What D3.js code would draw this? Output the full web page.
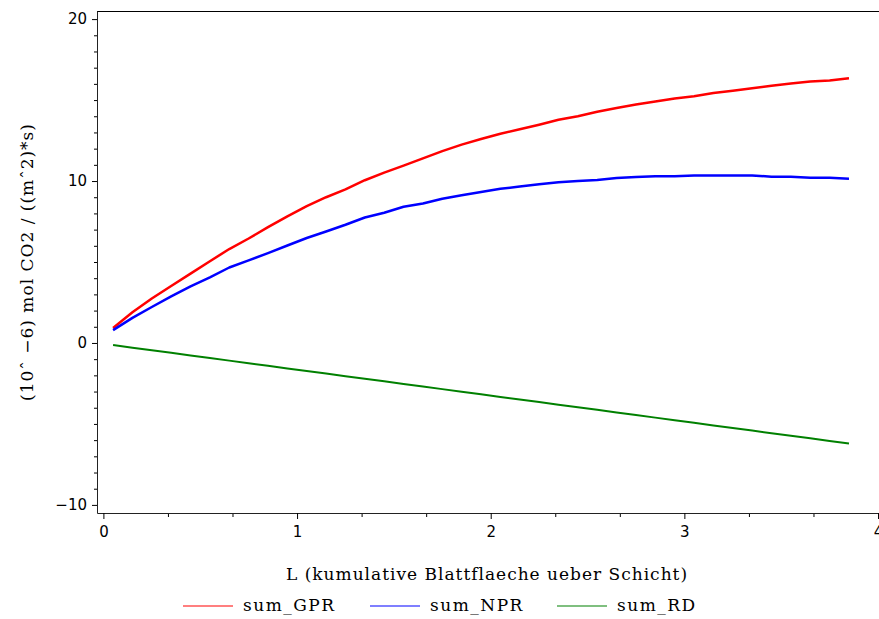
<!DOCTYPE html>
<html>
<head>
<meta charset="utf-8">
<script src="https://cdn.jsdelivr.net/npm/d3@7"></script>
<style>
  body { margin: 0; background: #fff; }
  svg { display: block; }
</style>
</head>
<body>
<svg id="chart" width="879" height="619"></svg>
<script>
// L values (cumulative leaf area above the layer)
const L = [0.05, 0.15, 0.25, 0.35, 0.45, 0.55, 0.65, 0.75, 0.85, 0.95,
  1.05, 1.15, 1.25, 1.35, 1.45, 1.55, 1.65, 1.75, 1.85, 1.95,
  2.05, 2.15, 2.25, 2.35, 2.45, 2.55, 2.65, 2.75, 2.85, 2.95,
  3.05, 3.15, 3.25, 3.35, 3.45, 3.55, 3.65, 3.75, 3.85];

const sumGPR = [0.93, 1.90, 2.75, 3.52, 4.28, 5.05, 5.80, 6.45, 7.15, 7.82,
  8.45, 9.00, 9.48, 10.05, 10.52, 10.95, 11.40, 11.85, 12.25, 12.60,
  12.92, 13.20, 13.48, 13.78, 14.00, 14.28, 14.51, 14.72, 14.91, 15.10,
  15.23, 15.43, 15.58, 15.73, 15.88, 16.02, 16.15, 16.21, 16.35];

const sumNPR = [0.79, 1.55, 2.22, 2.88, 3.50, 4.05, 4.66, 5.10, 5.55, 6.02,
  6.48, 6.88, 7.30, 7.75, 8.04, 8.41, 8.61, 8.91, 9.12, 9.32,
  9.52, 9.66, 9.80, 9.92, 10.00, 10.07, 10.18, 10.25, 10.30, 10.30,
  10.34, 10.34, 10.34, 10.34, 10.27, 10.26, 10.20, 10.20, 10.14];

const sumRD = [-0.13, -0.29, -0.45, -0.61, -0.77, -0.93, -1.09, -1.25, -1.41, -1.57,
  -1.73, -1.89, -2.05, -2.21, -2.37, -2.53, -2.69, -2.85, -3.01, -3.17,
  -3.33, -3.49, -3.65, -3.81, -3.97, -4.13, -4.29, -4.45, -4.61, -4.77,
  -4.93, -5.09, -5.25, -5.41, -5.57, -5.73, -5.89, -6.05, -6.21];

const xTicks = [0, 1, 2, 3, 4];
const xMinorTicks = [1/3, 2/3, 4/3, 5/3, 7/3, 8/3, 10/3, 11/3];
const yTicks = [-10, 0, 10, 20];
const yMinorTicks = d3.range(-10, 21).filter(v => v % 10 !== 0);

const series = [
  { key: 'sum_GPR', values: sumGPR, color: '#ff0000', width: 2.5 },
  { key: 'sum_NPR', values: sumNPR, color: '#0000ff', width: 2.5 },
  { key: 'sum_RD', values: sumRD, color: '#008000', width: 2 }
];

const svg = d3.select('#chart');

const x = d3.scaleLinear().domain([-0.033, 4.005]).range([97, 879]);
const y = d3.scaleLinear().domain([-10.5, 20.5]).range([513, 11]);

const tickFont = '"DejaVu Sans", sans-serif';
const labelFont = '"DejaVu Serif", serif';

// top border
svg.append('line')
  .attr('x1', x.range()[0]).attr('x2', x.range()[1])
  .attr('y1', y.range()[1] + 0.5).attr('y2', y.range()[1] + 0.5)
  .attr('stroke', '#000').attr('stroke-width', 1);

// x axis minor ticks
svg.append('g')
  .attr('transform', `translate(0,${y.range()[0]})`)
  .call(d3.axisBottom(x).tickValues(xMinorTicks).tickSize(4).tickSizeOuter(0).tickFormat(''))
  .call(g => g.select('.domain').remove());

// x axis (the "4" is cut by the right edge, as in the original)
const gx = svg.append('g')
  .attr('transform', `translate(0,${y.range()[0]})`)
  .call(d3.axisBottom(x).tickValues(xTicks).tickSize(6).tickSizeOuter(0).tickPadding(7).tickFormat(d3.format('d')));
gx.select('.domain').attr('stroke', '#222');
gx.selectAll('text').attr('font-family', tickFont).attr('font-size', 15).attr('fill', '#000');

// y axis minor ticks
svg.append('g')
  .attr('transform', `translate(${x.range()[0]},0)`)
  .call(d3.axisLeft(y).tickValues(yMinorTicks).tickSize(3).tickSizeOuter(0).tickFormat(''))
  .call(g => g.select('.domain').remove());

// y axis
const gy = svg.append('g')
  .attr('transform', `translate(${x.range()[0]},0)`)
  .call(d3.axisLeft(y).tickValues(yTicks).tickSize(5).tickSizeOuter(0).tickPadding(5)
    .tickFormat(d => d < 0 ? '\u2212' + Math.abs(d) : d));
gy.select('.domain').attr('stroke', '#222');
gy.selectAll('text').attr('font-family', tickFont).attr('font-size', 15).attr('fill', '#000');

// lines
const line = d3.line()
  .x((d, i) => x(L[i]))
  .y(d => y(d));

svg.append('g').selectAll('path')
  .data(series)
  .enter()
  .append('path')
  .attr('d', d => line(d.values))
  .attr('fill', 'none')
  .attr('stroke', d => d.color)
  .attr('stroke-width', d => d.width)
  .attr('stroke-linejoin', 'round');

// axis titles
svg.append('text')
  .attr('x', 487).attr('y', 580)
  .attr('text-anchor', 'middle')
  .attr('font-family', labelFont).attr('font-size', 17)
  .attr('letter-spacing', 1)
  .text('L (kumulative Blattflaeche ueber Schicht)');

svg.append('text')
  .attr('transform', 'translate(33,262) rotate(-90)')
  .attr('text-anchor', 'middle')
  .attr('font-family', labelFont).attr('font-size', 17)
  .attr('letter-spacing', 1)
  .text('(10\u02C6 \u22126) mol CO2 / ((m\u02C62)*s)');

// legend
const legendX = [183, 370, 557];
const legend = svg.append('g').selectAll('g')
  .data(series)
  .enter()
  .append('g')
  .attr('transform', (d, i) => `translate(${legendX[i]},606)`);

legend.append('line')
  .attr('x1', 0).attr('x2', 50)
  .attr('stroke', d => d.color).attr('stroke-width', 1.2);

legend.append('text')
  .attr('x', 60).attr('y', 5)
  .attr('font-family', labelFont).attr('font-size', 17)
  .attr('letter-spacing', 1.5)
  .text(d => d.key);
</script>
</body>
</html>
